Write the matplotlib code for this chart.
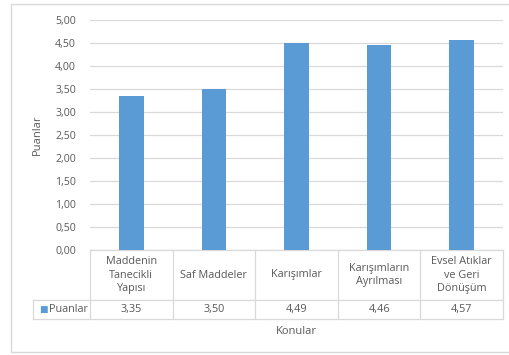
import matplotlib
matplotlib.use("Agg")
import matplotlib.pyplot as plt
from matplotlib.patches import Rectangle
import matplotlib.transforms as mtransforms

categories = ["Maddenin\nTanecikli\nYapısı", "Saf Maddeler", "Karışımlar",
              "Karışımların\nAyrılması", "Evsel Atıklar\nve Geri\nDönüşüm"]
values = [3.35, 3.50, 4.49, 4.46, 4.57]
value_labels = ["3,35", "3,50", "4,49", "4,46", "4,57"]
yticks = [0, 0.5, 1.0, 1.5, 2.0, 2.5, 3.0, 3.5, 4.0, 4.5, 5.0]
ytick_labels = ["0,00", "0,50", "1,00", "1,50", "2,00", "2,50", "3,00", "3,50", "4,00", "4,50", "5,00"]
series_name = "Puanlar"
x_title = "Konular"
y_title = "Puanlar"

W, H = 510, 355
bar_color = "#5B9BD5"
text_color = "#595959"
grid_color = "#D9D9D9"
font = "Open Sans"

plt.rcParams['font.family'] = [font, 'DejaVu Sans']

fig = plt.figure(figsize=(W / 100, H / 100), dpi=100)

# outer chart frame
fig.patches.append(Rectangle((11 / W, 1 - 352 / H), (W + 5 - 11) / W, (352 - 4) / H,
                             transform=fig.transFigure, fill=False,
                             edgecolor=grid_color, linewidth=1.0))

ax_l, ax_r, ax_t, ax_b = 90, 503, 20, 250
ax = fig.add_axes([ax_l / W, 1 - ax_b / H, (ax_r - ax_l) / W, (ax_b - ax_t) / H])

x = list(range(len(categories)))
ax.bar(x, values, width=0.30, color=bar_color, zorder=3)
ax.set_xlim(-0.5, len(categories) - 0.5)
ax.set_ylim(0, 5)
ax.set_yticks(yticks)
ax.set_yticklabels(ytick_labels, fontsize=7.6, color=text_color)
ax.set_xticks([])
ax.tick_params(axis='y', length=0, pad=10)
ax.yaxis.grid(True, color=grid_color, linewidth=0.9, zorder=0)
for s in ax.spines.values():
    s.set_visible(False)
ax.set_ylabel(y_title, fontsize=8, color=text_color, labelpad=9)

# data table below axes
blend = mtransforms.blended_transform_factory(ax.transData, ax.transAxes)
ph = ax_b - ax_t
cw = (ax_r - ax_l) / len(categories)
y_row1 = 0.0
y_row2 = -(300 - ax_b) / ph
y_row3 = -(319 - ax_b) / ph
x_leg = -0.5 - (ax_l - 33) / cw
line_kw = dict(color=grid_color, linewidth=0.9, transform=blend, clip_on=False)

ax.plot([-0.5, len(categories) - 0.5], [y_row1, y_row1], **line_kw)
ax.plot([x_leg, len(categories) - 0.5], [y_row2, y_row2], **line_kw)
ax.plot([x_leg, len(categories) - 0.5], [y_row3, y_row3], **line_kw)
for i in range(len(categories) + 1):
    ax.plot([i - 0.5, i - 0.5], [y_row1, y_row3], **line_kw)
ax.plot([x_leg, x_leg], [y_row2, y_row3], **line_kw)

for i, (c, v) in enumerate(zip(categories, value_labels)):
    ax.text(i, (y_row1 + y_row2) / 2, c, transform=blend, ha='center', va='center',
            fontsize=7.8, color=text_color, linespacing=1.3, clip_on=False)
    ax.text(i, (y_row2 + y_row3) / 2, v, transform=blend, ha='center', va='center',
            fontsize=7.8, color=text_color, clip_on=False)

# legend key in table
ym = (y_row2 + y_row3) / 2
ax.text(x_leg + 0.08, ym, "\u25A0", transform=blend, ha='left', va='center',
        fontsize=6.5, color=bar_color, clip_on=False, family='DejaVu Sans')
ax.text(x_leg + 0.19, ym, series_name, transform=blend, ha='left', va='center',
        fontsize=7.8, color=text_color, clip_on=False)

# x axis title
ax.text(0.5 * (len(categories) - 1), -(332 - ax_b) / ph, x_title, transform=blend,
        ha='center', va='center', fontsize=8, color=text_color, clip_on=False)

fig.savefig("out.png", dpi=100)
